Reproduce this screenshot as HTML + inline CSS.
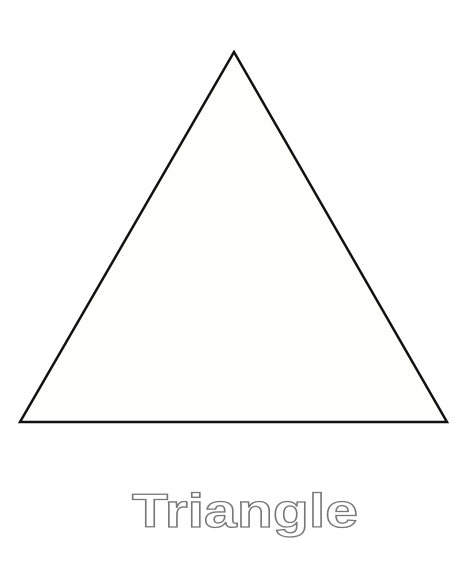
<!DOCTYPE html>
<html><head><meta charset="utf-8"><style>
html,body{margin:0;padding:0;background:#fff;}
svg{display:block;}
</style></head><body>
<svg width="473" height="576" viewBox="0 0 473 576">
<rect x="0" y="0" width="473" height="576" fill="#fff"/>
<polygon points="234,52 20,422 447,422" fill="#fefefc" stroke="#111" stroke-width="2.5" stroke-linejoin="miter"/>
<text x="245" y="527" text-anchor="middle" font-family="Liberation Sans, sans-serif" font-weight="bold" font-size="47" fill="#fff" stroke="#777" stroke-width="1.3" textLength="226" lengthAdjust="spacingAndGlyphs">Triangle</text>
</svg>
</body></html>
